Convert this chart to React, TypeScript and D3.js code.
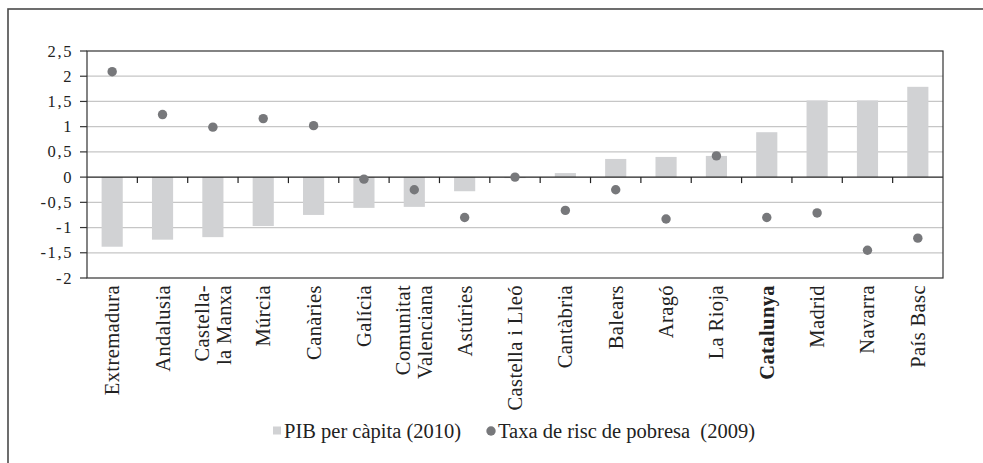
import React from "react";
import * as d3 from "d3";

const categories: string[][] = [
  ["Extremadura"],
  ["Andalusia"],
  ["Castella-", "la Manxa"],
  ["Múrcia"],
  ["Canàries"],
  ["Galícia"],
  ["Comunitat", "Valenciana"],
  ["Astúries"],
  ["Castella i Lleó"],
  ["Cantàbria"],
  ["Balears"],
  ["Aragó"],
  ["La Rioja"],
  ["Catalunya"],
  ["Madrid"],
  ["Navarra"],
  ["País Basc"],
];
const boldCategory = "Catalunya";

const pibValues = [
  -1.38, -1.24, -1.19, -0.97, -0.75, -0.61, -0.59, -0.28, -0.02, 0.08, 0.36,
  0.4, 0.42, 0.89, 1.52, 1.52, 1.79,
];
const povertyValues = [
  2.09, 1.24, 0.99, 1.16, 1.02, -0.04, -0.25, -0.8, 0.0, -0.66, -0.25, -0.83,
  0.42, -0.8, -0.71, -1.45, -1.21,
];
const yTicks = [2.5, 2, 1.5, 1, 0.5, 0, -0.5, -1, -1.5, -2];
const legendLabels = ["PIB per càpita (2010)", "Taxa de risc de pobresa\u00a0 (2009)"];

const W = 983;
const H = 463;
const FONT = "'Liberation Serif', 'Times New Roman', serif";

export default function App() {
  const left = 87;
  const right = 943;
  const top = 51;
  const bottom = 278;

  const keys = categories.map((c) => c.join(" "));
  const x = d3.scaleBand<string>().domain(keys).range([left, right]).paddingInner(0).paddingOuter(0);
  const y = d3.scaleLinear().domain([-2, 2.5]).range([bottom, top]);
  const bw = x.bandwidth();
  const barW = bw * 0.42;
  const fmt = (v: number) => String(v).replace(".", ",");

  return (
    <svg
      width={W}
      height={H}
      style={{ position: "absolute", left: 0, top: 0, background: "#fff" }}
      fontFamily={FONT}
    >
      {/* outer frame */}
      <rect x={8} y={9} width={1100} height={600} fill="none" stroke="#4a4a4a" strokeWidth={1.6} />

      {/* gridlines */}
      {yTicks
        .filter((t) => t !== 2.5 && t !== -2 && t !== 0)
        .map((t) => (
          <line key={"g" + t} x1={left} x2={right} y1={y(t)} y2={y(t)} stroke="#c6c6c6" strokeWidth={1.2} />
        ))}

      {/* bars */}
      {pibValues.map((v, i) => {
        const cx = x(keys[i])! + bw / 2;
        return (
          <rect
            key={"b" + i}
            x={cx - barW / 2}
            y={Math.min(y(v), y(0))}
            width={barW}
            height={Math.abs(y(v) - y(0))}
            fill="#d1d2d4"
          />
        );
      })}

      {/* zero line and category ticks */}
      <line x1={left} x2={right} y1={y(0)} y2={y(0)} stroke="#222" strokeWidth={1.2} />
      {keys.slice(1).map((k) => (
        <line key={"t" + k} x1={x(k)!} x2={x(k)!} y1={y(0)} y2={y(0) + 6} stroke="#222" strokeWidth={1.2} />
      ))}

      {/* dots */}
      {povertyValues.map((v, i) => (
        <circle key={"d" + i} cx={x(keys[i])! + bw / 2} cy={y(v)} r={4.7} fill="#77787b" />
      ))}

      {/* plot frame */}
      <rect x={left} y={top} width={right - left} height={bottom - top} fill="none" stroke="#333" strokeWidth={1.2} />

      {/* y axis ticks & labels */}
      {yTicks.map((t) => (
        <g key={"y" + t}>
          <line x1={left - 7} x2={left} y1={y(t)} y2={y(t)} stroke="#333" strokeWidth={1.2} />
          <text
            x={73}
            y={y(t)}
            textAnchor="end"
            dominantBaseline="central"
            fontSize={16.5}
            letterSpacing={1.6}
            fill="#222"
          >
            {fmt(t)}
          </text>
        </g>
      ))}

      {/* x labels */}
      {categories.map((lines, i) => {
        const cx = x(keys[i])! + bw / 2;
        const n = lines.length;
        const bold = keys[i] === boldCategory;
        return (
          <g key={"x" + i} transform={`translate(${cx},285) rotate(-90)`}>
            {lines.map((ln, j) => (
              <text
                key={j}
                x={0}
                y={(j - (n - 1) / 2) * 22}
                textAnchor="end"
                dominantBaseline="central"
                fontSize={20.5}
                letterSpacing={0.4}
                fontWeight={bold ? "bold" : "normal"}
                fill="#222"
              >
                {ln}
              </text>
            ))}
          </g>
        );
      })}

      {/* legend */}
      <rect x={273} y={426.5} width={8} height={8} fill="#d1d2d4" />
      <text x={284} y={438} fontSize={20.5} fill="#222">
        {legendLabels[0]}
      </text>
      <circle cx={491} cy={431} r={4.7} fill="#77787b" />
      <text x={498} y={438} fontSize={20.5} fill="#222">
        {legendLabels[1]}
      </text>
    </svg>
  );
}
